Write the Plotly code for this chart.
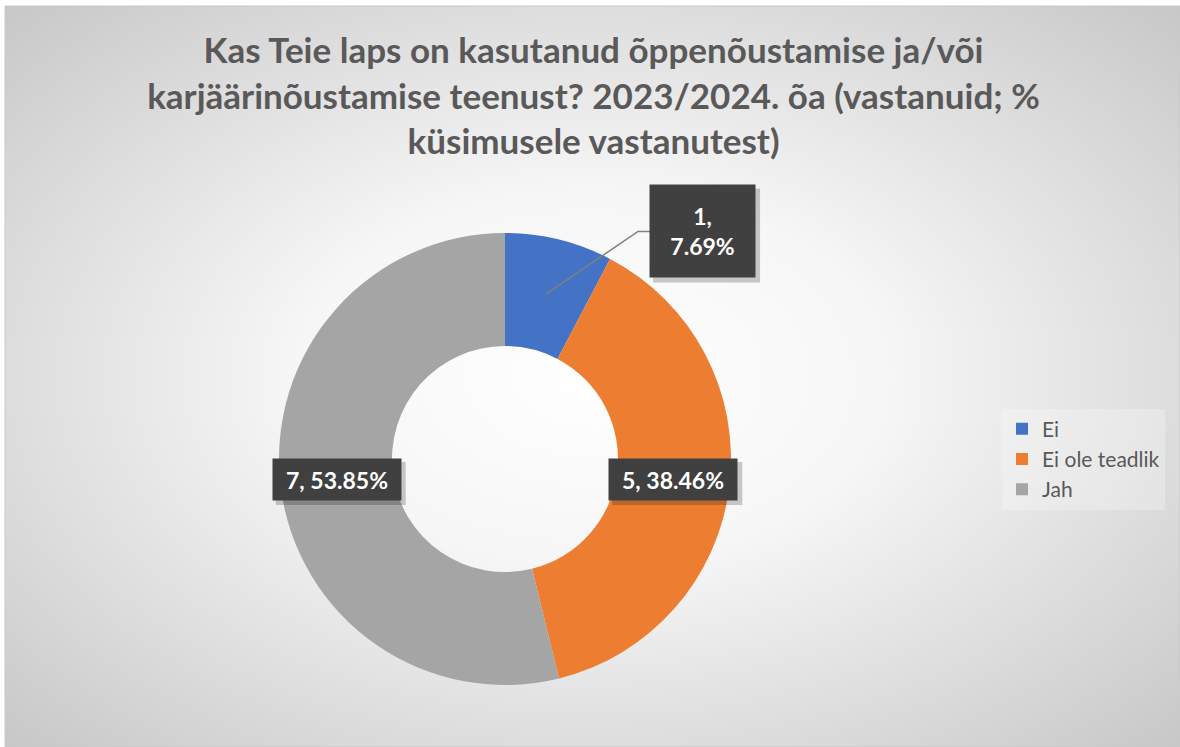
import math
import urllib.parse
import plotly.graph_objects as go

# ---- data ----
categories = ["Ei", "Ei ole teadlik", "Jah"]
values = [1, 5, 7]
colors = ["#4472C4", "#ED7D31", "#A5A5A5"]
title_text = ("Kas Teie laps on kasutanud õppenõustamise ja/või<br>"
              "karjäärinõustamise teenust? 2023/2024. õa (vastanuid; %<br>"
              "küsimusele vastanutest)")

# ---- geometry (pixels) ----
W, H = 1180, 747
cx_px, cy_px, R_px = 505, 459, 226
hole = 0.5

def px2paper(x, y):
    return x / W, 1 - y / H

dom_x = [(cx_px - R_px) / W, (cx_px + R_px) / W]
dom_y = [1 - (cy_px + R_px) / H, 1 - (cy_px - R_px) / H]

fig = go.Figure()
fig.add_trace(go.Pie(
    labels=categories, values=values,
    marker=dict(colors=colors, line=dict(width=0)),
    hole=hole, sort=False, direction="clockwise", rotation=0,
    textinfo="none", hoverinfo="label+value+percent",
    domain=dict(x=dom_x, y=dom_y),
))

# background radial gradient (style)
svg = ('<svg xmlns="http://www.w3.org/2000/svg" width="1175" height="741" preserveAspectRatio="none">'
       '<defs><radialGradient id="g" cx="50%" cy="50%" r="72%">'
       '<stop offset="0" stop-color="#ffffff"/><stop offset="0.35" stop-color="#f6f6f6"/>'
       '<stop offset="1" stop-color="#c6c6c6"/></radialGradient></defs>'
       '<rect width="1175" height="741" fill="url(#g)"/></svg>')
src = "data:image/svg+xml;charset=utf-8," + urllib.parse.quote(svg)
x0, y0 = px2paper(5, 6)
fig.add_layout_image(dict(source=src, xref="paper", yref="paper", x=x0, y=y0,
                          sizex=1 - x0, sizey=y0, xanchor="left", yanchor="top",
                          sizing="stretch", layer="below"))
fig.add_shape(type="rect", xref="paper", yref="paper", x0=x0, y0=0, x1=1, y1=y0,
              line=dict(color="#c8c8c8", width=1), layer="below")

# data labels
total = sum(values)
r_mid = R_px * (1 + hole) / 2
start = 0.0
label_font = dict(family="Lato, 'Open Sans', sans-serif", size=23, color="white")
for i, (cat, v) in enumerate(zip(categories, values)):
    frac = v / total
    mid = (start + frac / 2) * 2 * math.pi
    start += frac
    mx = cx_px + r_mid * math.sin(mid)
    my = cy_px - r_mid * math.cos(mid)
    pct = f"{frac * 100:.2f}%"
    if i == 0:
        text = f"<b>{v},<br>{pct}</b>"
        tx, ty = mx + 157, my - 63
        bw, bh, pad = 93, 80, 6
        bx = tx - (bw / 2 + pad)
        fig.add_shape(type="path", xref="paper", yref="paper",
                      path=f"M {mx/W},{1-my/H} L {(bx-12)/W},{1-ty/H} L {bx/W},{1-ty/H}",
                      line=dict(color="#7f7f7f", width=1.5))
    else:
        text = f"<b>{v}, {pct}</b>"
        tx, ty = mx, my
        bw, bh, pad = 118, 31, 5
    # shadow box
    hw, hh = bw / 2 + pad + 1, bh / 2 + pad + 1
    fig.add_shape(type="rect", xref="paper", yref="paper",
                  x0=(tx - hw + 4) / W, x1=(tx + hw + 4) / W,
                  y0=1 - (ty + hh + 4) / H, y1=1 - (ty - hh + 4) / H,
                  fillcolor="rgba(0,0,0,0.2)", line=dict(width=0), layer="above")
    px_, py_ = px2paper(tx, ty)
    fig.add_annotation(x=px_, y=py_, xref="paper", yref="paper", text=text,
                       xanchor="center", yanchor="middle",
                       showarrow=False, font=label_font, width=bw, height=bh,
                       bgcolor="#404040", borderpad=pad)

fig.update_layout(
    width=W, height=H,
    margin=dict(l=0, r=0, t=0, b=0, autoexpand=False),
    paper_bgcolor="white",
    title=dict(text=f"<b>{title_text}</b>", x=0.503, xanchor="center",
               y=1 - 63 / H, yanchor="middle",
               font=dict(family="Lato, 'Open Sans', sans-serif", size=35, color="#595959")),
    legend=dict(x=1002 / W, y=1 - 459 / H, xanchor="left", yanchor="middle",
                bgcolor="rgba(255,255,255,0.25)",
                font=dict(family="Lato, 'Open Sans', sans-serif", size=21, color="#595959"),
                itemwidth=30),
    showlegend=True,
)

fig.write_html("out.html", config={"displayModeBar": False},
               post_script="document.body.style.margin='0';")
